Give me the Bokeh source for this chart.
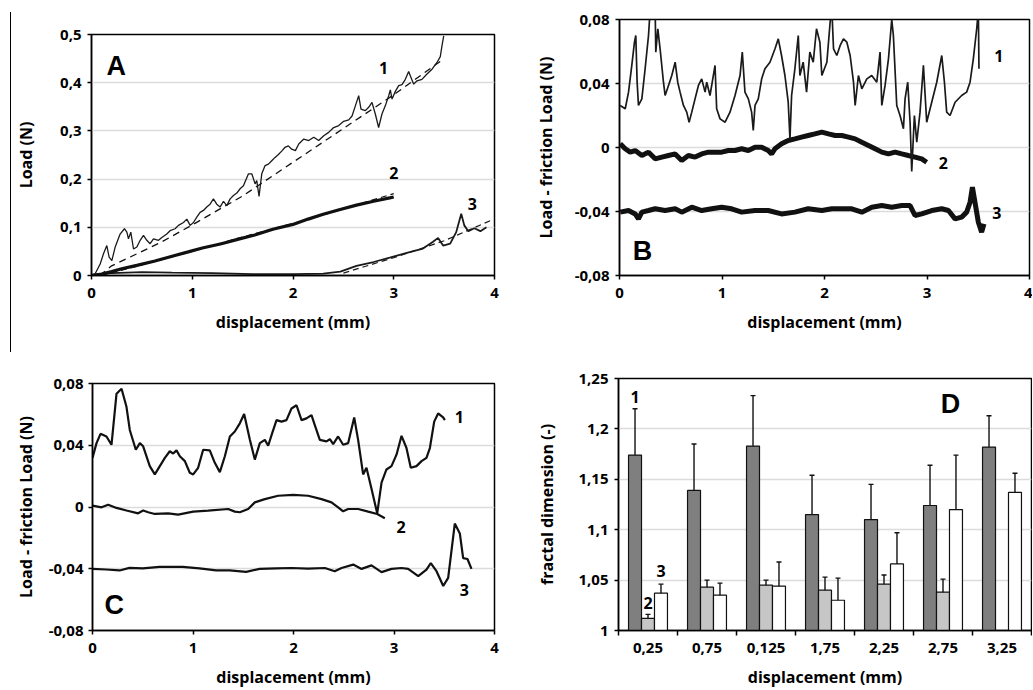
import numpy as np
from bokeh.plotting import figure
from bokeh.models import (Range1d, FixedTicker, CustomJSTickFormatter, Label,
                          ColumnDataSource, Whisker, TeeHead, Div)
from bokeh.layouts import row, column
from bokeh.embed import file_html
from bokeh.resources import INLINE

# ---------------- Panel A : Load (N) vs displacement ----------------
a1_x = [0.0, 0.036, 0.086, 0.119, 0.152, 0.175, 0.202, 0.235, 0.284, 0.327, 0.351, 0.367, 0.390, 0.417,
        0.450, 0.483, 0.516, 0.549, 0.582, 0.615, 0.665, 0.698, 0.747, 0.780, 0.830, 0.863, 0.913,
        0.946, 0.979, 1.012, 1.045, 1.078, 1.111, 1.144, 1.177, 1.210, 1.243, 1.276, 1.310, 1.343,
        1.376, 1.409, 1.442, 1.475, 1.508, 1.558, 1.591, 1.624, 1.640, 1.663, 1.690, 1.723, 1.756,
        1.789, 1.822, 1.855, 1.888, 1.921, 1.954, 1.987, 2.024, 2.057, 2.107, 2.156, 2.206, 2.255,
        2.305, 2.354, 2.404, 2.454, 2.503, 2.553, 2.586, 2.619, 2.652, 2.675, 2.718, 2.751, 2.784,
        2.817, 2.850, 2.883, 2.916, 2.950, 2.966, 2.983, 3.016, 3.049, 3.082, 3.115, 3.148, 3.171,
        3.198, 3.231, 3.280, 3.330, 3.380, 3.429, 3.462, 3.479, 3.496]
a1_y = [0.0, 0.0035, 0.024, 0.045, 0.062, 0.038, 0.031, 0.059, 0.086, 0.097, 0.090, 0.076, 0.090, 0.055,
        0.059, 0.073, 0.083, 0.073, 0.066, 0.076, 0.073, 0.079, 0.086, 0.093, 0.097, 0.104, 0.110,
        0.117, 0.104, 0.110, 0.121, 0.131, 0.135, 0.142, 0.148, 0.159, 0.148, 0.142, 0.154, 0.145,
        0.159, 0.166, 0.171, 0.180, 0.186, 0.211, 0.211, 0.190, 0.197, 0.164, 0.211, 0.228, 0.231,
        0.238, 0.245, 0.251, 0.258, 0.266, 0.269, 0.262, 0.259, 0.273, 0.283, 0.280, 0.287, 0.280,
        0.290, 0.297, 0.307, 0.311, 0.320, 0.323, 0.331, 0.352, 0.373, 0.345, 0.342, 0.349, 0.359,
        0.335, 0.307, 0.335, 0.352, 0.373, 0.385, 0.366, 0.382, 0.394, 0.396, 0.407, 0.423, 0.411,
        0.397, 0.404, 0.407, 0.418, 0.428, 0.442, 0.454, 0.477, 0.497]
a1_fit_x = [0.08, 0.2, 0.4, 0.7, 1.0, 1.5, 2.0, 2.5, 3.0, 3.5]
a1_fit_y = [0.0, 0.02, 0.04, 0.07, 0.105, 0.165, 0.235, 0.305, 0.375, 0.45]

a2_x = [0.0, 0.1, 0.2, 0.3, 0.45, 0.63, 0.8, 0.96, 1.1, 1.29, 1.45, 1.62, 1.8, 2.0, 2.15, 2.3,
        2.45, 2.63, 2.8, 2.96, 3.0]
a2_y = [0.0, 0.003, 0.008, 0.014, 0.021, 0.030, 0.040, 0.049, 0.057, 0.066, 0.075, 0.084, 0.096,
        0.106, 0.117, 0.127, 0.136, 0.146, 0.154, 0.161, 0.163]
a2_fit_x = [0.1, 0.5, 1.0, 1.5, 2.0, 2.5, 3.0]
a2_fit_y = [0.0, 0.022, 0.05, 0.08, 0.108, 0.138, 0.17]

a3_x = [0.0, 0.2, 0.5, 0.8, 1.2, 1.6, 2.0, 2.3, 2.47, 2.63, 2.8, 2.96, 3.13, 3.29, 3.39, 3.44,
        3.49, 3.56, 3.62, 3.67, 3.70, 3.74, 3.80, 3.86, 3.92]
a3_y = [0.002, 0.005, 0.007, 0.006, 0.005, 0.003, 0.003, 0.004, 0.008, 0.020, 0.028, 0.037, 0.047,
        0.056, 0.070, 0.078, 0.062, 0.066, 0.090, 0.128, 0.104, 0.092, 0.098, 0.092, 0.100]
a3_fit_x = [2.5, 3.0, 3.5, 3.96]
a3_fit_y = [0.005, 0.037, 0.072, 0.114]

# ---------------- Panel B : Load - friction Load (raw) ----------------
b1_x = [0.007, 0.056, 0.088, 0.120, 0.146, 0.159, 0.172, 0.185, 0.218, 0.250, 0.283, 0.299, 0.348,
        0.354, 0.374, 0.396, 0.429, 0.445, 0.478, 0.510, 0.543, 0.568, 0.591, 0.624, 0.656, 0.679,
        0.705, 0.737, 0.770, 0.802, 0.835, 0.851, 0.883, 0.932, 0.948, 0.981, 1.030, 1.078, 1.127,
        1.176, 1.198, 1.224, 1.257, 1.289, 1.305, 1.322, 1.354, 1.387, 1.419, 1.468, 1.517, 1.549,
        1.581, 1.614, 1.646, 1.663, 1.679, 1.711, 1.744, 1.760, 1.792, 1.825, 1.857, 1.890, 1.922,
        1.955, 1.974, 2.023, 2.055, 2.072, 2.088, 2.120, 2.153, 2.185, 2.218, 2.250, 2.283, 2.299,
        2.331, 2.364, 2.413, 2.461, 2.510, 2.542, 2.559, 2.591, 2.624, 2.656, 2.672, 2.705, 2.737,
        2.770, 2.786, 2.812, 2.835, 2.851, 2.877, 2.900, 2.932, 2.965, 2.997, 3.046, 3.095, 3.144,
        3.170, 3.192, 3.225, 3.274, 3.338, 3.387, 3.420, 3.452, 3.485, 3.501, 3.507]
b1_y = [0.0263, 0.0242, 0.0346, 0.0513, 0.0658, 0.0700, 0.0408, 0.0263, 0.0304, 0.0492, 0.0700,
        0.0860, 0.0860, 0.0596, 0.0742, 0.0617, 0.0408, 0.0325, 0.0388, 0.0450, 0.0533, 0.0408,
        0.0346, 0.0263, 0.0221, 0.0158, 0.0221, 0.0304, 0.0388, 0.0429, 0.0346, 0.0408, 0.0325,
        0.0513, 0.0242, 0.0179, 0.0158, 0.0221, 0.0325, 0.0450, 0.0596, 0.0346, 0.0304, 0.0221,
        0.0106, 0.0263, 0.0304, 0.0429, 0.0492, 0.0533, 0.0617, 0.0679, 0.0575, 0.0450, 0.0283,
        0.0054, 0.0325, 0.0492, 0.0700, 0.0450, 0.0533, 0.0346, 0.0596, 0.0533, 0.0742, 0.0658,
        0.0450, 0.0533, 0.0783, 0.0860, 0.0617, 0.0575, 0.0638, 0.0679, 0.0658, 0.0575, 0.0408,
        0.0263, 0.0450, 0.0367, 0.0429, 0.0450, 0.0408, 0.0596, 0.0263, 0.0388, 0.0554, 0.0800,
        0.0700, 0.0263, 0.0200, 0.0117, 0.0304, 0.0408, 0.0158, -0.0150, 0.0200, 0.0033, 0.0221,
        0.0513, 0.0158, 0.0283, 0.0408, 0.0575, 0.0408, 0.0221, 0.0200, 0.0283, 0.0325, 0.0346,
        0.0408, 0.0554, 0.0742, 0.0860, 0.0492]

b2_x = [0.007, 0.056, 0.104, 0.153, 0.218, 0.283, 0.348, 0.413, 0.478, 0.543, 0.607, 0.672, 0.737,
        0.802, 0.867, 0.932, 0.997, 1.062, 1.127, 1.192, 1.257, 1.322, 1.387, 1.451, 1.484, 1.516,
        1.581, 1.646, 1.711, 1.776, 1.841, 1.906, 1.974, 2.039, 2.104, 2.169, 2.234, 2.299, 2.364,
        2.429, 2.494, 2.559, 2.624, 2.689, 2.754, 2.818, 2.883, 2.948, 2.997]
b2_y = [0.0023, -0.0008, -0.0029, -0.0019, -0.0050, -0.0029, -0.0071, -0.0060, -0.0050, -0.0040,
        -0.0081, -0.0050, -0.0060, -0.0040, -0.0029, -0.0029, -0.0029, -0.0019, -0.0019, -0.0008,
        -0.0019, 0.0002, 0.0002, -0.0019, -0.0040, -0.0008, 0.0023, 0.0044, 0.0054, 0.0065, 0.0075,
        0.0085, 0.0096, 0.0085, 0.0075, 0.0075, 0.0065, 0.0054, 0.0033, 0.0013, -0.0008, -0.0029,
        -0.0040, -0.0029, -0.0040, -0.0050, -0.0060, -0.0071, -0.0092]

b3_x = [0.007, 0.088, 0.153, 0.185, 0.218, 0.283, 0.348, 0.445, 0.543, 0.607, 0.705, 0.802, 0.899,
        0.997, 1.094, 1.192, 1.322, 1.451, 1.581, 1.711, 1.841, 1.974, 2.072, 2.169, 2.266, 2.364,
        2.461, 2.559, 2.656, 2.754, 2.835, 2.883, 2.948, 3.046, 3.144, 3.209, 3.274, 3.338, 3.387,
        3.420, 3.443, 3.468, 3.501, 3.533, 3.556]
b3_y = [-0.0404, -0.0394, -0.0415, -0.0446, -0.0404, -0.0394, -0.0383, -0.0394, -0.0383, -0.0404,
        -0.0373, -0.0394, -0.0383, -0.0373, -0.0383, -0.0404, -0.0394, -0.0394, -0.0415, -0.0404,
        -0.0383, -0.0394, -0.0383, -0.0383, -0.0383, -0.0404, -0.0373, -0.0363, -0.0373, -0.0363,
        -0.0363, -0.0425, -0.0415, -0.0394, -0.0383, -0.0394, -0.0446, -0.0435, -0.0404, -0.0342,
        -0.0248, -0.0342, -0.0467, -0.0529, -0.0477]

# ---------------- Panel C : Load - friction Load (smoothed) ----------------
c1_x = [0.0, 0.04, 0.08, 0.139, 0.189, 0.239, 0.289, 0.338, 0.371, 0.431, 0.471, 0.504, 0.570, 0.620,
        0.670, 0.720, 0.769, 0.803, 0.836, 0.869, 0.919, 0.968, 1.002, 1.051, 1.101, 1.167, 1.217,
        1.267, 1.317, 1.367, 1.416, 1.466, 1.509, 1.566, 1.615, 1.665, 1.715, 1.748, 1.788, 1.831,
        1.881, 1.930, 1.980, 2.030, 2.080, 2.129, 2.179, 2.212, 2.262, 2.328, 2.362, 2.395, 2.444,
        2.494, 2.544, 2.604, 2.643, 2.693, 2.726, 2.769, 2.833, 2.876, 2.925, 2.975, 3.025, 3.075,
        3.124, 3.167, 3.224, 3.274, 3.323, 3.357, 3.400, 3.439, 3.489, 3.506]
c1_y = [0.0318, 0.0414, 0.0474, 0.0457, 0.0403, 0.0734, 0.0766, 0.0649, 0.0499, 0.0371, 0.0414,
        0.0393, 0.0265, 0.0211, 0.0265, 0.0318, 0.0361, 0.0346, 0.0367, 0.0329, 0.0297, 0.0222,
        0.0211, 0.0254, 0.0371, 0.0367, 0.0286, 0.0226, 0.0329, 0.0457, 0.0489, 0.0542, 0.0602,
        0.0435, 0.0307, 0.0414, 0.0435, 0.0397, 0.0478, 0.0563, 0.0553, 0.0563, 0.0638, 0.0659,
        0.0563, 0.0574, 0.0595, 0.0531, 0.0435, 0.0425, 0.0439, 0.0407, 0.0457, 0.0403, 0.0414,
        0.0580, 0.0435, 0.0211, 0.0254, 0.0137, -0.0041, 0.0158, 0.0243, 0.0265, 0.0339, 0.0461,
        0.0382, 0.0254, 0.0265, 0.0297, 0.0318, 0.0382, 0.0553, 0.0606, 0.0580, 0.0563]

c2_x = [0.0, 0.09, 0.156, 0.239, 0.338, 0.454, 0.504, 0.554, 0.620, 0.753, 0.852, 1.002, 1.151, 1.350,
        1.416, 1.466, 1.549, 1.615, 1.715, 1.847, 1.997, 2.146, 2.279, 2.378, 2.444, 2.494, 2.544,
        2.643, 2.743, 2.833, 2.909]
c2_y = [0.0009, -0.0002, 0.0015, -0.0006, -0.0023, -0.0041, -0.0023, -0.0034, -0.0045, -0.0041,
        -0.0049, -0.0030, -0.0023, -0.0013, -0.0030, -0.0034, -0.0013, 0.0030, 0.0051, 0.0073,
        0.0079, 0.0073, 0.0051, 0.0030, -0.0002, -0.0028, -0.0013, -0.0013, -0.0030, -0.0045, -0.0073]

c3_x = [0.0, 0.136, 0.269, 0.368, 0.5, 0.667, 0.898, 1.065, 1.23, 1.363, 1.529, 1.662, 1.828, 1.98,
        2.146, 2.312, 2.41, 2.478, 2.594, 2.677, 2.776, 2.876, 2.975, 3.075, 3.141, 3.241, 3.323,
        3.366, 3.423, 3.49, 3.539, 3.605, 3.655, 3.688, 3.731, 3.771]
c3_y = [-0.0401, -0.0405, -0.0411, -0.0394, -0.0398, -0.0388, -0.0388, -0.0398, -0.0411, -0.0411,
        -0.0420, -0.0401, -0.0398, -0.0395, -0.0399, -0.0395, -0.0416, -0.0395, -0.0373, -0.0401,
        -0.0378, -0.0422, -0.0401, -0.0395, -0.0401, -0.0448, -0.0405, -0.0363, -0.0416, -0.0512,
        -0.0459, -0.0107, -0.0171, -0.0331, -0.0337, -0.0401]

# ---------------- Panel D : fractal dimension bars ----------------
d_categories = ["0,25", "0,75", "0,125", "1,75", "2,25", "2,75", "3,25"]
d1_val = [1.174, 1.139, 1.183, 1.115, 1.110, 1.124, 1.182]
d1_up = [1.220, 1.185, 1.233, 1.154, 1.145, 1.164, 1.213]
d1_lo = [1.128, 1.095, 1.134, 1.076, 1.074, 1.085, 1.150]
d2_val = [1.012, 1.043, 1.045, 1.040, 1.046, 1.038, None]
d2_up = [1.016, 1.050, 1.050, 1.053, 1.055, 1.051, None]
d2_lo = [1.008, 1.036, 1.040, 1.026, 1.038, 1.025, None]
d3_val = [1.037, 1.035, 1.044, 1.030, 1.066, 1.120, 1.137]
d3_up = [1.046, 1.047, 1.068, 1.052, 1.097, 1.174, 1.156]
d3_lo = [1.028, 1.022, 1.020, 1.009, 1.034, 1.066, 1.119]

# ---------------- styling helpers ----------------
FONT = "Open Sans"
LFONT = "Liberation Sans"
fmt_code = "return String(Math.round(tick*1000)/1000).replace('.', ',');"


def make_fig(w, h, mbl, mbr, mbt, mbb, xr, yr):
    p = figure(width=w, height=h, x_range=xr, y_range=yr, output_backend="svg",
               toolbar_location=None, min_border_left=mbl, min_border_right=mbr,
               min_border_top=mbt, min_border_bottom=mbb, frame_align=False)
    p.outline_line_color = "black"
    p.outline_line_width = 1.5
    p.background_fill_color = "white"
    p.border_fill_color = "white"
    for ax in (p.xaxis[0], p.yaxis[0]):
        ax.axis_line_color = "black"
        ax.axis_line_width = 1.5
        ax.major_tick_line_color = "black"
        ax.major_tick_line_width = 1.5
        ax.major_tick_out = 4
        ax.major_tick_in = 0
        ax.minor_tick_line_color = None
        ax.major_label_text_font = FONT
        ax.major_label_text_font_style = "bold"
        ax.major_label_text_font_size = "15px"
        ax.major_label_text_color = "black"
        ax.axis_label_text_font = FONT
        ax.axis_label_text_font_style = "bold"
        ax.axis_label_text_font_size = "16px"
        ax.axis_label_text_color = "black"
    p.xgrid.visible = False
    p.ygrid.grid_line_color = "#dcdcdc"
    p.ygrid.grid_line_width = 1.5
    return p


def set_ticks(p, xt, yt):
    p.xaxis.ticker = FixedTicker(ticks=xt)
    p.yaxis.ticker = FixedTicker(ticks=yt)
    p.ygrid.ticker = FixedTicker(ticks=yt)
    p.xaxis.formatter = CustomJSTickFormatter(code=fmt_code)
    p.yaxis.formatter = CustomJSTickFormatter(code=fmt_code)


def num_label(p, x, y, t):
    p.add_layout(Label(x=x, y=y, text=t, text_font=FONT, text_font_style="bold",
                       text_font_size="16px", text_align="center", text_baseline="middle",
                       text_color="black"))


def panel_letter(p, x, y, t):
    p.add_layout(Label(x=x, y=y, text=t, text_font=LFONT, text_font_style="bold",
                       text_font_size="27px", text_align="left", text_baseline="top",
                       text_color="black"))


xt4 = [0, 1, 2, 3, 4]
yt_b = [-0.08, -0.04, 0, 0.04, 0.08]

# ---- A ----
pA = make_fig(506, 340, 80, 23, 34, 65, Range1d(0, 4), Range1d(0, 0.5))
set_ticks(pA, xt4, [0, 0.1, 0.2, 0.3, 0.4, 0.5])
pA.xaxis.axis_label = "displacement (mm)"
pA.yaxis.axis_label = "Load (N)"
pA.xaxis.major_label_standoff = 8
pA.xaxis.axis_label_standoff = 10
pA.yaxis.major_label_standoff = 6
pA.yaxis.axis_label_standoff = 20
pA.line(a3_x, a3_y, line_color="#1a1a1a", line_width=1.8)
pA.line(a3_fit_x, a3_fit_y, line_color="#1a1a1a", line_width=1.2, line_dash="6 4")
pA.line(a2_x, a2_y, line_color="#111111", line_width=3.2)
pA.line(a2_fit_x, a2_fit_y, line_color="#111111", line_width=1.2, line_dash="6 4")
pA.line(a1_fit_x, a1_fit_y, line_color="#111111", line_width=1.3, line_dash="7 5")
pA.line(a1_x, a1_y, line_color="#1a1a1a", line_width=1.3)
num_label(pA, 2.9, 0.43, "1")
num_label(pA, 3.0, 0.212, "2")
num_label(pA, 3.78, 0.149, "3")
panel_letter(pA, 0.15, 0.465, "A")

# ---- B ----
pB = make_fig(515, 340, 102, 3, 19, 65, Range1d(0, 4), Range1d(-0.08, 0.08))
set_ticks(pB, xt4, yt_b)
pB.xaxis.axis_label = "displacement (mm)"
pB.yaxis.axis_label = "Load - friction Load (N)"
pB.xaxis.major_label_standoff = 8
pB.xaxis.axis_label_standoff = 10
pB.yaxis.major_label_standoff = 6
pB.yaxis.axis_label_standoff = 15
pB.line(b3_x, b3_y, line_color="#111111", line_width=5)
pB.line(b2_x, b2_y, line_color="#111111", line_width=5)
pB.line(b1_x, b1_y, line_color="#1a1a1a", line_width=1.7)
num_label(pB, 3.70, 0.0575, "1")
num_label(pB, 3.16, -0.0094, "2")
num_label(pB, 3.68, -0.041, "3")
panel_letter(pB, 0.13, -0.0555, "B")

# ---- C ----
pC = make_fig(506, 350, 80, 23, 43, 57, Range1d(0, 4), Range1d(-0.08, 0.08))
set_ticks(pC, xt4, yt_b)
pC.xaxis.axis_label = "displacement (mm)"
pC.yaxis.axis_label = "Load - friction Load (N)"
pC.xaxis.major_label_standoff = 8
pC.xaxis.axis_label_standoff = 10
pC.yaxis.major_label_standoff = 5
pC.yaxis.axis_label_standoff = 9
pC.line(c3_x, c3_y, line_color="#111111", line_width=2.2)
pC.line(c2_x, c2_y, line_color="#111111", line_width=2.2)
pC.line(c1_x, c1_y, line_color="#111111", line_width=2.2)
num_label(pC, 3.65, 0.058, "1")
num_label(pC, 3.07, -0.0128, "2")
num_label(pC, 3.70, -0.054, "3")
panel_letter(pC, 0.12, -0.054, "C")

# ---- D ----
pD = make_fig(515, 350, 101, 1, 38, 57, Range1d(0, len(d_categories)), Range1d(1, 1.25))
pD.yaxis.ticker = FixedTicker(ticks=[1, 1.05, 1.1, 1.15, 1.2, 1.25])
pD.ygrid.ticker = FixedTicker(ticks=[1, 1.05, 1.1, 1.15, 1.2, 1.25])
pD.yaxis.formatter = CustomJSTickFormatter(code=fmt_code)
centers = [i + 0.5 for i in range(len(d_categories))]
bounds = [i for i in range(len(d_categories) + 1)]
pD.xaxis.ticker = FixedTicker(ticks=centers, minor_ticks=bounds)
pD.xaxis.formatter = CustomJSTickFormatter(args=dict(cats=d_categories),
                                           code="return cats[Math.floor(tick)];")
pD.xaxis.major_tick_out = 0
pD.xaxis.minor_tick_line_color = "black"
pD.xaxis.minor_tick_line_width = 1.5
pD.xaxis.minor_tick_out = 5
pD.xaxis.minor_tick_in = 0
pD.xaxis.axis_label = "displacement (mm)"
pD.yaxis.axis_label = "fractal dimension (-)"
pD.xaxis.major_label_standoff = 7
pD.xaxis.axis_label_standoff = 10
pD.yaxis.major_label_standoff = 6
pD.yaxis.axis_label_standoff = 17

BW = 0.22
series = [(d1_val, d1_up, d1_lo, -BW, "#7f7f7f"),
          (d2_val, d2_up, d2_lo, 0.0, "#c6c6c6"),
          (d3_val, d3_up, d3_lo, BW, "#ffffff")]
for vals, ups, los, off, col in series:
    xs, tops, u, l = [], [], [], []
    for i, v in enumerate(vals):
        if v is None:
            continue
        xs.append(centers[i] + off)
        tops.append(v)
        u.append(ups[i])
        l.append(los[i])
    src = ColumnDataSource(dict(x=xs, top=tops, upper=u, lower=l))
    pD.vbar(x="x", top="top", bottom=1, width=BW, source=src, fill_color=col,
            line_color="#111111", line_width=1.2)
    pD.add_layout(Whisker(base="x", upper="upper", lower="lower", source=src,
                          line_color="#111111", line_width=1.4,
                          upper_head=TeeHead(size=5, line_color="#111111", line_width=1.4),
                          lower_head=TeeHead(size=5, line_color="#111111", line_width=1.4)))
num_label(pD, centers[0] - BW, 1.232, "1")
num_label(pD, centers[0], 1.027, "2")
num_label(pD, centers[0] + BW, 1.059, "3")
panel_letter(pD, 5.46, 1.24, "D")

side = Div(text="", width=11, height=340, margin=(12, 0, 0, 0),
           styles={"border-right": "1.3px solid #000", "box-sizing": "border-box"})

layout = row(side, column(row(pA, pB), row(pC, pD)))
open("out.html", "w").write(file_html(layout, INLINE))
